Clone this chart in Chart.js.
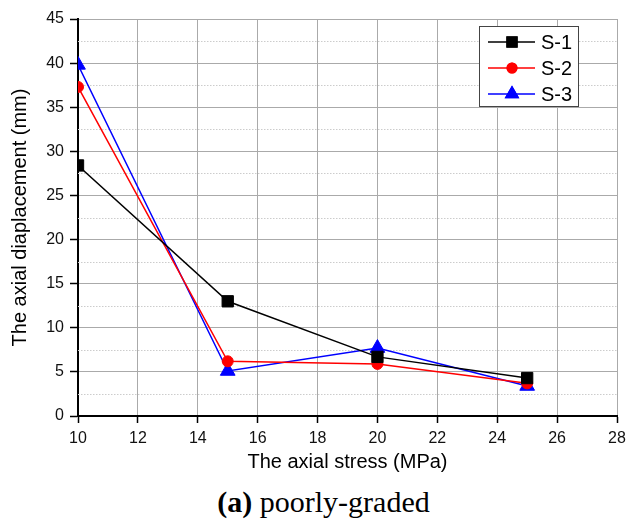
<!DOCTYPE html>
<html>
<head>
<meta charset="utf-8">
<script src="https://cdn.jsdelivr.net/npm/chart.js@4"></script>
<style>
  body { margin: 0; background: #fff; }
  #wrap { position: relative; width: 627px; height: 520px; }
  #box { position: absolute; left: 0; top: 0; width: 627px; height: 480px; }
  #caption {
    position: absolute; left: 0; top: 485px; width: 627px;
    font-family: 'Liberation Serif', 'Times New Roman', serif;
    font-size: 30px; color: #000; text-align: center; text-indent: 20px;
  }
</style>
</head>
<body>
<div id="wrap">
  <div id="box"><canvas id="chart"></canvas></div>
  <div id="caption"><b>(a)</b> poorly-graded</div>
</div>
<script>
const stress = [10, 15, 20, 25];
const s1 = [28.4, 13.0, 6.7, 4.3];
const s2 = [37.3, 6.2, 5.9, 3.7];
const s3 = [39.8, 5.1, 7.7, 3.4];
const seriesNames = ['S-1', 'S-2', 'S-3'];
const xTicks = [10, 12, 14, 16, 18, 20, 22, 24, 26, 28];
const yMajor = [0, 5, 10, 15, 20, 25, 30, 35, 40, 45];
const yMinor = [2.5, 7.5, 12.5, 17.5, 22.5, 27.5, 32.5, 37.5, 42.5];

const font = 'Liberation Sans, Arial, sans-serif';

const mk = (label, vals, color, style, radius) => ({
  label,
  data: stress.map((x, i) => ({ x, y: vals[i] })),
  borderColor: color,
  backgroundColor: color,
  borderWidth: 1.5,
  pointStyle: style,
  pointRadius: radius,
  pointHoverRadius: radius,
  pointBorderWidth: 1,
  tension: 0,
  clip: 0
});

// dotted minor y grid lines, then clip the data marks to the plot frame
const minorGrid = {
  id: 'minorGrid',
  beforeDatasetsDraw(chart) {
    const { ctx, chartArea: a, scales: { y } } = chart;
    ctx.save();
    ctx.strokeStyle = '#cccccc';
    ctx.lineWidth = 1;
    ctx.setLineDash([1.5, 1.5]);
    yMinor.forEach(v => {
      const py = Math.round(y.getPixelForValue(v)) + 0.5;
      ctx.beginPath();
      ctx.moveTo(a.left, py);
      ctx.lineTo(a.right, py);
      ctx.stroke();
    });
    ctx.restore();
    ctx.save();
    ctx.beginPath();
    ctx.rect(a.left, a.top, a.right - a.left, a.bottom - a.top);
    ctx.clip();
  },
  afterDatasetsDraw(chart) {
    chart.ctx.restore();
  }
};

// legend box inside the plot, top right
const boxLegend = {
  id: 'boxLegend',
  afterDraw(chart) {
    const { ctx, chartArea: a } = chart;
    const w = 99, h = 80;
    const left = a.right - 39 - w, top = a.top + 7;
    ctx.save();
    ctx.fillStyle = '#fff';
    ctx.fillRect(left, top, w, h);
    ctx.strokeStyle = '#444';
    ctx.lineWidth = 1;
    ctx.strokeRect(left + 0.5, top + 0.5, w, h);
    chart.data.datasets.forEach((ds, i) => {
      const cy = top + 16 + i * 26;
      ctx.strokeStyle = ds.borderColor;
      ctx.lineWidth = 1.5;
      ctx.beginPath();
      ctx.moveTo(left + 9, cy);
      ctx.lineTo(left + 56, cy);
      ctx.stroke();
      ctx.fillStyle = ds.backgroundColor;
      Chart.helpers.drawPoint(ctx, { pointStyle: ds.pointStyle, radius: ds.pointRadius, borderWidth: 0 }, left + 33, cy);
      ctx.fill();
      ctx.fillStyle = '#000';
      ctx.font = '20px ' + font;
      ctx.textBaseline = 'middle';
      ctx.fillText(ds.label, left + 62, cy + 1);
    });
    ctx.restore();
  }
};

new Chart(document.getElementById('chart'), {
  type: 'line',
  data: {
    datasets: [
      mk(seriesNames[0], s1, '#000000', 'rect', 8),
      mk(seriesNames[1], s2, '#ff0000', 'circle', 5.5),
      mk(seriesNames[2], s3, '#0000ff', 'triangle', 8.5)
    ]
  },
  options: {
    responsive: true,
    maintainAspectRatio: false,
    animation: false,
    layout: { padding: { left: 8, top: 19, right: 10, bottom: 6 } },
    plugins: { legend: { display: false }, tooltip: { enabled: false } },
    scales: {
      x: {
        type: 'linear',
        min: 10,
        max: 28,
        afterBuildTicks: s => { s.ticks = xTicks.map(v => ({ value: v })); },
        afterFit: s => { s.height = 58; s.paddingLeft = 0; s.paddingRight = 0; },
        grid: { color: '#aaaaaa', lineWidth: 1, tickColor: '#000', tickLength: 7, tickWidth: 1.5 },
        border: { color: '#000', width: 2 },
        ticks: { color: '#111', font: { family: font, size: 16 }, padding: 6, maxRotation: 0 },
        title: { display: true, text: 'The axial stress (MPa)', color: '#000', font: { family: font, size: 20 }, padding: 0 }
      },
      y: {
        min: 0,
        max: 45,
        afterBuildTicks: s => { s.ticks = yMajor.concat(yMinor).sort((a, b) => a - b).map(v => ({ value: v })); },
        afterFit: s => { s.width = 70; s.paddingTop = 0; s.paddingBottom = 0; },
        grid: {
          color: c => (c.tick && c.tick.value % 5 === 0) ? '#aaaaaa' : 'rgba(0,0,0,0)',
          lineWidth: 1, tickColor: '#000', tickLength: 8, tickWidth: 1.5
        },
        border: { color: '#000', width: 2 },
        ticks: {
          color: '#111', font: { family: font, size: 16 }, padding: 6,
          callback: v => (v % 5 === 0 ? v : '')
        },
        title: { display: true, text: 'The axial diaplacement (mm)', color: '#000', font: { family: font, size: 20 }, padding: 0 }
      }
    }
  },
  plugins: [minorGrid, boxLegend]
});
</script>
</body>
</html>
